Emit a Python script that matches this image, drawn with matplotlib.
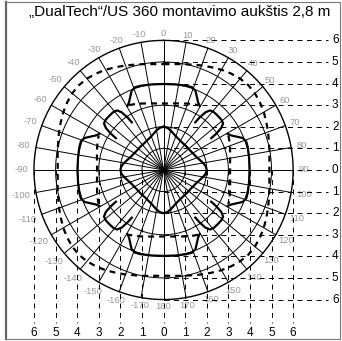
import numpy as np
import matplotlib.pyplot as plt

# =========================================================
# data (metres, angles in degrees clockwise from 0 = up)
# =========================================================
title = "„DualTech“/US 360 montavimo aukštis 2,8 m"
grid_radii = [1, 2, 3, 4, 5, 6]
spoke_angles = list(range(0, 360, 10))
angle_labels = list(range(-170, 190, 10))
metre_ticks = [-6, -5, -4, -3, -2, -1, 0, 1, 2, 3, 4, 5, 6]
metre_labels = ["6", "5", "4", "3", "2", "1", "0", "1", "2", "3", "4", "5", "6"]

# zone outlines over one eighth of the circle (0 = on an axis, 45 = diagonal)
octant_angles = [0, 5, 10, 15, 20, 25, 30, 35, 40, 45]
diamond_r = [2.0, 1.96, 1.86, 1.75, 1.66, 1.60, 1.56, 1.53, 1.52, 1.52]
outer_dash_r = [4.90, 4.92, 4.98, 5.05, 5.15, 5.25, 5.36, 5.45, 5.52, 5.55]

# inner dashed arc on each axis: half of it (degrees off the axis, radius)
inner_dash_angles = [0, 5, 10, 15, 20, 25, 28]
inner_dash_r = [3.08, 3.09, 3.13, 3.19, 3.27, 3.35, 3.40]

# bracket lobe on each axis: half of it (degrees off the axis, radius)
lobe_angles = [0, 8, 15, 19, 22, 24.5, 27, 30]
lobe_r = [3.98, 4.00, 4.04, 4.05, 3.95, 3.72, 3.52, 3.38]

# bracket lobe on each diagonal: half of it (degrees off the diagonal, radius)
diag_angles = [0, 4, 7, 9, 10.5, 11.5]
diag_r = [3.55, 3.55, 3.50, 3.30, 2.95, 2.60]

# =========================================================
# helpers
# =========================================================
PX = 0.72  # points per pixel at 100 dpi


def to_xy(theta, r):
    t = np.radians(np.asarray(theta, dtype=float))
    r = np.asarray(r, dtype=float)
    return r * np.sin(t), r * np.cos(t)


def closed_outline(angles, radii):
    # mirror the octant into a quadrant, then repeat it round the circle
    a = list(angles) + [90 - v for v in reversed(angles[:-1])]
    r = list(radii) + list(reversed(radii[:-1]))
    th, rr = [], []
    for q in range(4):
        th += [v + 90 * q for v in a]
        rr += r
    th.append(th[0])
    rr.append(rr[0])
    return to_xy(th, rr)


def mirrored(angles, radii, centre):
    a = [centre - v for v in reversed(angles[1:])] + [centre + v for v in angles]
    r = list(reversed(radii[1:])) + list(radii)
    return to_xy(a, r)


def dashes(on_px, off_px, lw):
    return (0, (on_px * PX / lw, off_px * PX / lw))


# =========================================================
# plotting
# =========================================================
plt.rcParams["font.family"] = ["Liberation Sans", "DejaVu Sans"]

fig = plt.figure(figsize=(3.42, 3.41), dpi=100)
ax = fig.add_axes([0, 0, 1, 1])
ax.set_xlim(-7.57, 8.26)
ax.set_ylim(-7.92, 7.87)
ax.set_aspect("equal")
ax.axis("off")

grid_lw = 0.7
thick_lw = 1.6

# polar grid
t = np.linspace(0, 360, 361)
for r in grid_radii:
    x, y = to_xy(t, [r] * len(t))
    ax.plot(x, y, color="k", lw=1.0 if r == 6 else grid_lw, zorder=2)
for a in spoke_angles:
    x, y = to_xy([a, a], [0, 6])
    ax.plot(x, y, color="k", lw=grid_lw, zorder=2)

# angle labels round the rim
for a in angle_labels:
    txt = str(a)
    rl = 6.3 + 0.1 * len(txt) * abs(np.sin(np.radians(a)))
    x, y = to_xy(a, rl)
    ax.text(x, y, txt, ha="center", va="center", fontsize=6.8,
            color="#999999", zorder=1)

# metre reference lines: right half and lower half
thin_ls = dashes(5, 4.5, grid_lw)
for m, lab in zip(metre_ticks, metre_labels):
    ax.plot([0, 7.62], [-m, -m], color="k", lw=grid_lw, ls=thin_ls, zorder=3)
    ax.text(7.95, -m, lab, ha="center", va="center", fontsize=8.5, zorder=3)
    ax.plot([m, m], [0, -7.08], color="k", lw=grid_lw, ls=thin_ls, zorder=3)
    ax.text(m, -7.55, lab, ha="center", va="center", fontsize=8.5, zorder=3)

# detection zones
thick_ls = dashes(6, 5, thick_lw)
x, y = closed_outline(octant_angles, outer_dash_r)
ax.plot(x, y, color="k", lw=thick_lw, ls=thick_ls, zorder=4)
x, y = closed_outline(octant_angles, diamond_r)
ax.plot(x, y, color="k", lw=thick_lw, zorder=4)
for q in range(4):
    x, y = mirrored(inner_dash_angles, inner_dash_r, 90 * q)
    ax.plot(x, y, color="k", lw=thick_lw, ls=thick_ls, zorder=4)
    x, y = mirrored(lobe_angles, lobe_r, 90 * q)
    ax.plot(x, y, color="k", lw=thick_lw, zorder=4, solid_capstyle="butt")
    x, y = mirrored(diag_angles, diag_r, 45 + 90 * q)
    ax.plot(x, y, color="k", lw=thick_lw, zorder=4, solid_capstyle="butt")

# title and frame
fig.text(0.525, 1 - 12 / 341, title, ha="center", va="center", fontsize=11)
fig.add_artist(plt.Line2D([6 / 342, 6 / 342], [2 / 341, 339 / 341],
                          color="#666", lw=1.6))
fig.add_artist(plt.Line2D([6 / 342, 340 / 342, 340 / 342, 6 / 342],
                          [339 / 341, 339 / 341, 2 / 341, 2 / 341],
                          color="#777", lw=0.8))

fig.savefig("out.png", dpi=100)
